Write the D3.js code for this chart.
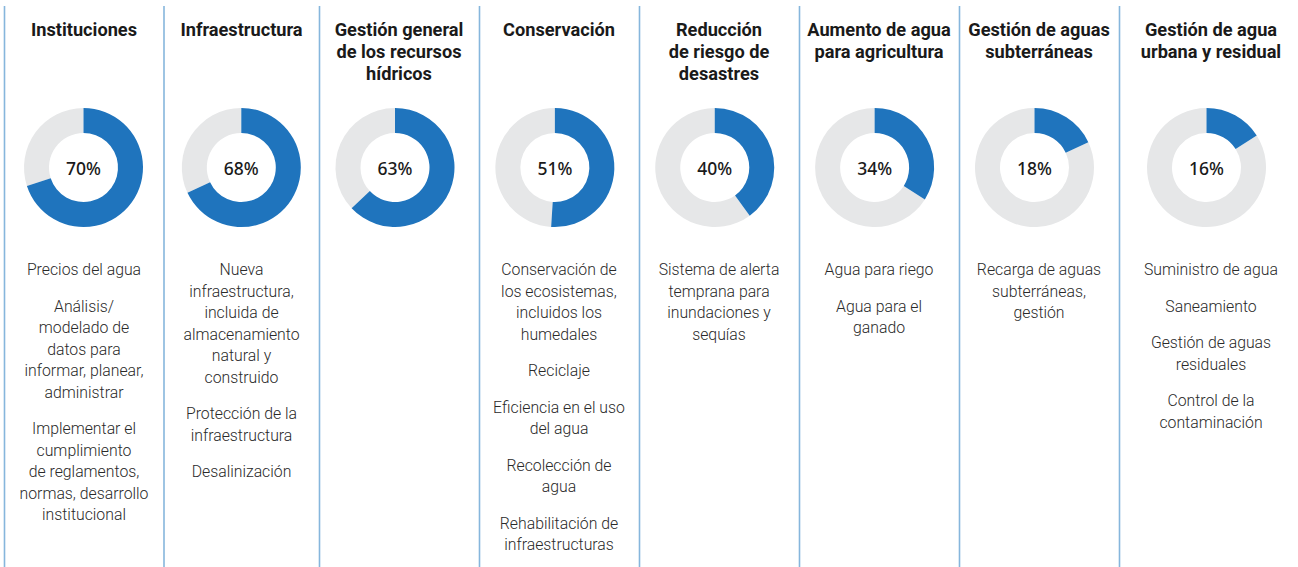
<!DOCTYPE html>
<html>
<head>
<meta charset="utf-8">
<script src="https://cdn.jsdelivr.net/npm/d3@7"></script>
<style>
  html, body { margin: 0; padding: 0; background: #fff; }
  svg { display: block; }
</style>
</head>
<body>
<svg id="chart" width="1298" height="567"></svg>
<script>
// Share of respondents naming each area (percent)
const categories = [
  ["Instituciones"],
  ["Infraestructura"],
  ["Gestión general", "de los recursos", "hídricos"],
  ["Conservación"],
  ["Reducción", "de riesgo de", "desastres"],
  ["Aumento de agua", "para agricultura"],
  ["Gestión de aguas", "subterráneas"],
  ["Gestión de agua", "urbana y residual"]
];
const values = [70, 68, 63, 51, 40, 34, 18, 16];

// Sub-topics listed under each area, one array of lines per item
const items = [
  [["Precios del agua"],
   ["Análisis/", "modelado de", "datos para", "informar, planear,", "administrar"],
   ["Implementar el", "cumplimiento", "de reglamentos,", "normas, desarrollo", "institucional"]],
  [["Nueva", "infraestructura,", "incluida de", "almacenamiento", "natural y", "construido"],
   ["Protección de la", "infraestructura"],
   ["Desalinización"]],
  [],
  [["Conservación de", "los ecosistemas,", "incluidos los", "humedales"],
   ["Reciclaje"],
   ["Eficiencia en el uso", "del agua"],
   ["Recolección de", "agua"],
   ["Rehabilitación de", "infraestructuras"]],
  [["Sistema de alerta", "temprana para", "inundaciones y", "sequías"]],
  [["Agua para riego"], ["Agua para el", "ganado"]],
  [["Recarga de aguas", "subterráneas,", "gestión"]],
  [["Suministro de agua"], ["Saneamiento"], ["Gestión de aguas", "residuales"], ["Control de la", "contaminación"]]
];

const svg = d3.select("#chart");
const H = 567;

// Column edges and centres
const edge = d3.scaleLinear().domain([0, 1, 2, 8]).range([4.5, 164, 319.5, 1279.5]);
const textX = d3.scaleLinear().domain([0, 1, 2, 6, 7]).range([84, 241.5, 399, 1039, 1211]);
const ringX = d3.scaleLinear().domain([0, 1, 2, 6, 7]).range([83.5, 241.3, 395, 1034.5, 1206.5]);

const pct = d3.scaleLinear().domain([0, 100]).range([0, 2 * Math.PI]);

// Separators
svg.selectAll("line.sep")
  .data(d3.range(8))
  .join("line")
  .attr("class", "sep")
  .attr("x1", d => edge(d)).attr("x2", d => edge(d))
  .attr("y1", 6).attr("y2", H)
  .attr("stroke", "#86b6dc")
  .attr("stroke-width", 1.6);

const arc = d3.arc().innerRadius(34.5).outerRadius(59.5);
const ringY = 167.5;

const col = svg.selectAll("g.col")
  .data(values.map((v, i) => ({ v, i, title: categories[i], items: items[i] })))
  .join("g")
  .attr("class", "col");

// Titles
col.append("text")
  .attr("x", d => textX(d.i))
  .attr("y", 36)
  .attr("text-anchor", "middle")
  .attr("font-family", "Roboto, sans-serif")
  .attr("font-weight", 700)
  .attr("font-size", 18.2)
  .attr("fill", "#1a1a1a")
  .selectAll("tspan")
  .data(d => d.title.map(t => ({ t, x: textX(d.i) })))
  .join("tspan")
  .attr("x", d => d.x)
  .attr("dy", (d, j) => j === 0 ? 0 : 22)
  .text(d => d.t);

// Donuts
const ring = col.append("g")
  .attr("transform", d => `translate(${ringX(d.i)},${ringY})`);

ring.append("path")
  .attr("d", d => arc({ startAngle: pct(d.v), endAngle: pct(100) }))
  .attr("fill", "#e6e7e8");

ring.append("path")
  .attr("d", d => arc({ startAngle: 0, endAngle: pct(d.v) }))
  .attr("fill", "#1f74bd");

ring.append("text")
  .attr("y", 7)
  .attr("text-anchor", "middle")
  .attr("font-family", "'Noto Sans', 'Open Sans', sans-serif")
  .attr("font-weight", 500)
  .attr("font-size", 17.5)
  .attr("fill", "#1a1a1a")
  .text(d => d.v + "%");

// Item lists
const lineH = 21.5, itemGap = 15;
col.each(function (d) {
  const g = d3.select(this);
  let y = 275;
  d.items.forEach(lines => {
    lines.forEach(line => {
      g.append("text")
        .attr("x", textX(d.i))
        .attr("y", y)
        .attr("text-anchor", "middle")
        .attr("font-family", "Roboto, sans-serif")
        .attr("font-weight", 300)
        .attr("font-size", 15.8)
        .attr("fill", "#2a2a2a")
        .text(line);
      y += lineH;
    });
    y += itemGap;
  });
});
</script>
</body>
</html>
